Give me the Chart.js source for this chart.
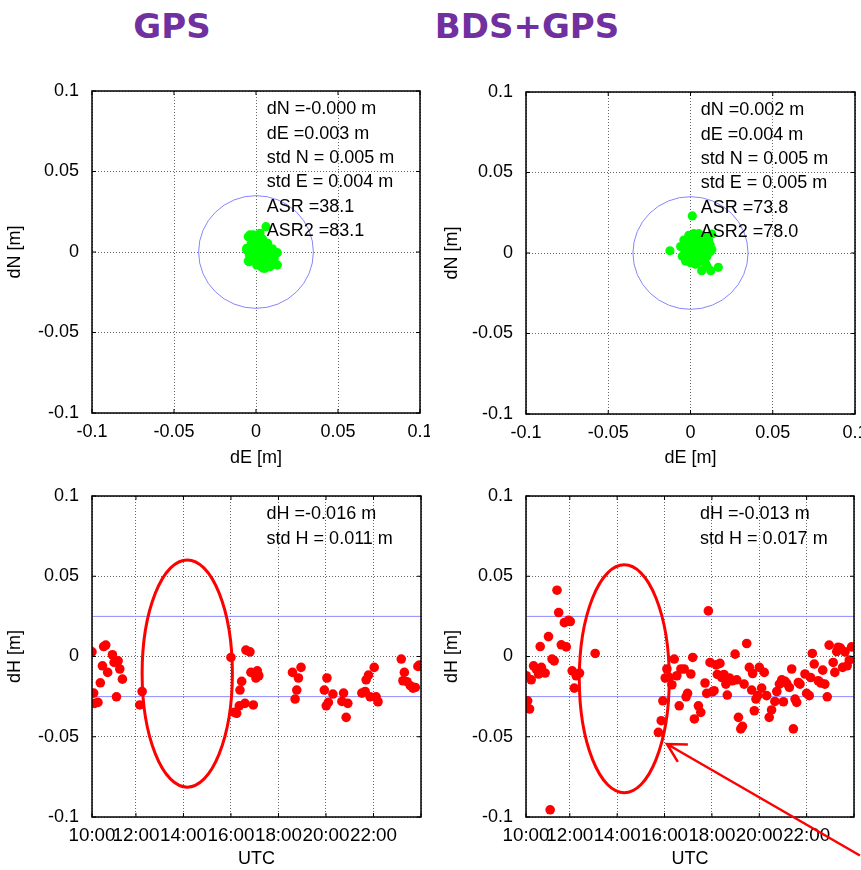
<!DOCTYPE html>
<html>
<head>
<meta charset="utf-8">
<script src="https://cdn.jsdelivr.net/npm/chart.js@4.4.1/dist/chart.umd.min.js"></script>
<style>
    body { margin: 0; background: #fff; width: 861px; height: 870px; position: relative; overflow: hidden; }
    .head { position: absolute; top: 6px; width: 240px; text-align: center; color: #7030A0;
            font: bold 34px "DejaVu Sans", sans-serif; line-height: 40px; }
    canvas { position: absolute; }
</style>
</head>
<body>
<div class="head" style="left:52px">GPS</div>
<div class="head" style="left:407px">BDS+GPS</div>
<canvas id="ne-gps" width="430" height="400" style="left:0;top:80px"></canvas>
<canvas id="ne-bds" width="431" height="400" style="left:430px;top:80px"></canvas>
<canvas id="h-gps" width="430" height="390" style="left:0;top:480px"></canvas>
<canvas id="h-bds" width="431" height="390" style="left:430px;top:480px"></canvas>
<script>
// ---- axes ----
const neTicks = [-0.1, -0.05, 0, 0.05, 0.1];
const neLabels = ['-0.1', '-0.05', '0', '0.05', '0.1'];
const timeTicks = [10.15, 12, 14, 16, 18, 20, 22, 24];
const timeLabels = ['10:00', '12:00', '14:00', '16:00', '18:00', '20:00', '22:00', ''];

// ---- horizontal scatter (dE, dN) in m ----
const gpsDE = [0.0061, 0.013, 0.013, -0.0047, -0.0057, -0.0037, 0.0024, 0.0065, 0.0055, 0.0004, 0.0085, -0.0047, -0.0057,
    -0.0041, 0.0045, 0.0085, 0.0071, -0.0016, 0.000, 0.002, 0.003, 0.001, 0.004, 0.005, -0.002, -0.003, 0.002, 0.006,
    0.007, 0.003, -0.001, 0.004, 0.008, 0.001, -0.002, 0.006, 0.002, 0.009, 0.000, 0.005, -0.004, 0.003, 0.010, 0.007,
    -0.001, 0.004, 0.011, 0.002];
const gpsDN = [0.0157, -0.0004, -0.008, -0.0056, 0.0012, 0.0106, 0.0116, 0.0054, -0.0101, -0.008, -0.0029, 0.0095, 0.0023,
    -0.006, -0.0101, -0.0091, 0.0054, 0.0106, 0.004, 0.002, -0.001, -0.003, 0.001, -0.004, 0.000, 0.005, 0.007, -0.006,
    0.002, 0.004, -0.005, -0.007, -0.002, 0.009, 0.003, 0.000, -0.006, -0.006, 0.006, 0.005, -0.002, -0.009, 0.002, -0.008,
    0.001, 0.008, -0.004, -0.002];
const bdsDE = [0.0011, -0.0125, 0.0169, 0.0123, 0.0068, 0.0129, -0.006, -0.005, -0.004, -0.003, -0.003, -0.002, -0.002,
    -0.001, -0.001, 0.000, 0.000, 0.000, 0.001, 0.001, 0.001, 0.002, 0.002, 0.002, 0.003, 0.003, 0.003, 0.003, 0.004,
    0.004, 0.004, 0.004, 0.005, 0.005, 0.005, 0.005, 0.006, 0.006, 0.006, 0.007, 0.007, 0.007, 0.007, 0.008, 0.008,
    0.008, 0.009, 0.009, 0.009, 0.010, 0.010, 0.011, 0.011, 0.012, 0.012, 0.013, -0.004, -0.001, 0.002, 0.005, 0.003,
    0.009, 0.010];
const bdsDN = [0.023, 0.0014, -0.0089, -0.011, -0.011, 0.0118, 0.004, -0.002, 0.008, 0.001, -0.005, 0.006, -0.001,
    0.003, -0.004, 0.009, 0.000, -0.006, 0.005, 0.002, -0.002, 0.007, 0.000, -0.004, 0.010, 0.004, 0.001, -0.003, 0.006,
    0.002, -0.001, -0.006, 0.008, 0.003, 0.000, -0.004, 0.005, 0.001, -0.002, 0.011, 0.004, -0.001, -0.005, 0.007, 0.002,
    -0.003, 0.009, 0.004, 0.000, 0.006, -0.002, 0.003, 0.008, 0.001, 0.005, 0.002, 0.003, 0.011, 0.012, 0.012, -0.007,
    -0.006, -0.008];

// ---- height error vs UTC hour ----
const gpsUTC = [10.15, 10.22, 10.26, 10.40, 10.50, 10.59, 10.64, 10.73, 10.81, 11.01, 11.08, 11.25, 11.32, 11.18, 11.43,
    12.26, 12.16, 16.0, 16.14, 16.24, 16.35, 16.38, 16.45, 16.59, 16.63, 16.8, 16.84, 16.94, 17.01, 17.05, 17.11, 17.17,
    18.59, 18.77, 18.70, 18.84, 18.95, 19.93, 20.04, 20.01, 20.10, 20.29, 20.67, 20.74, 20.85, 20.92, 21.51, 21.65,
    21.69, 21.79, 21.86, 22.03, 22.11, 22.19, 23.17, 23.30, 23.24, 23.41, 23.55, 23.66, 23.76, 23.87, 23.94];
const gpsDH = [0.0029, -0.0228, -0.0292, -0.0286, -0.0164, -0.0058, 0.0062, 0.0071, -0.0099, 0.0011, -0.0037, -0.0027,
    -0.0078, -0.0251, -0.0141, -0.0218, -0.0302, -0.0006, -0.0348, -0.0354, -0.0307, -0.0209, -0.0155, -0.0292, 0.004,
    0.0029, -0.0099, -0.0302, -0.0106, -0.0134, -0.0089, -0.012, -0.0099, -0.0209, -0.0265, -0.0134, -0.0068, -0.0209,
    -0.0134, -0.0307, -0.0286, -0.0234, -0.028, -0.0228, -0.0379, -0.0292, -0.0228, -0.0218, -0.0145, -0.0116, -0.0251,
    -0.0068, -0.0251, -0.0282, -0.0016, -0.0099, -0.0151, -0.0157, -0.0182, -0.0197, -0.0193, -0.0062, -0.0053];
const bdsUTC = [10.16, 10.22, 10.30, 10.37, 10.47, 10.58, 10.68, 10.75, 10.80, 10.96, 11.10, 11.17, 11.25, 11.34, 11.46,
    11.53, 11.64, 11.77, 11.85, 11.95, 12.02, 12.10, 12.19, 12.27, 12.41, 13.07, 15.74, 15.86, 15.93, 16.03, 16.10, 16.21,
    16.31, 16.41, 16.52, 16.62, 16.69, 16.83, 16.91, 16.97, 17.11, 17.19, 17.26, 17.43, 17.53, 17.71, 17.78, 17.85, 17.92,
    18.02, 18.09, 18.18, 18.23, 18.34, 18.42, 18.51, 18.59, 18.65, 18.74, 18.86, 18.98, 19.05, 19.12, 19.22, 19.29, 19.36,
    19.47, 19.58, 19.68, 19.72, 19.79, 19.86, 19.93, 20.00, 20.10, 20.21, 20.31, 20.42, 20.52, 20.66, 20.74, 20.85, 20.95,
    21.02, 21.09, 21.16, 21.27, 21.37, 21.44, 21.51, 21.58, 21.65, 21.72, 21.93, 22.00, 22.11, 22.17, 22.24, 22.32, 22.49,
    22.60, 22.68, 22.77, 22.87, 22.95, 23.12, 23.19, 23.27, 23.33, 23.43, 23.52, 23.62, 23.71, 23.80, 23.90];
const bdsDH = [-0.012, -0.0276, -0.0327, -0.0145, -0.0058, -0.0078, -0.0109, 0.0062, -0.0068, -0.0103, 0.0124, -0.0955,
    -0.0016, -0.0027, 0.0413, 0.0274, 0.0073, 0.0211, 0.006, 0.0226, 0.0218, -0.0089, -0.0197, -0.012, -0.0103, 0.0019,
    -0.0473, -0.04, -0.0276, -0.0134, -0.0078, -0.0131, -0.0176, -0.0016, -0.012, -0.0307, -0.0078, -0.0078, -0.0251,
    -0.023, -0.0109, -0.0006, -0.0389, -0.0307, -0.0348, -0.0165, -0.023, 0.0284, -0.0037, -0.022, -0.0213, -0.0052,
    -0.0112, -0.0043, -0.0131, -0.0112, -0.0172, -0.024, -0.0134, -0.0151, 0.0015, -0.0145, -0.0379, -0.0451, -0.0435,
    -0.0172, 0.0081, -0.0068, -0.0209, -0.0106, -0.0338, -0.0265, -0.0244, -0.0068, -0.0197, -0.0099, -0.0244, -0.0379,
    -0.0333, -0.028, -0.0218, -0.0172, -0.0145, -0.0282, -0.0155, -0.0168, -0.0193, -0.0078, -0.0451, -0.0265, -0.0286,
    -0.0162, -0.0172, -0.0109, -0.023, -0.0244, -0.0131, 0.0019, -0.0047, -0.0151, -0.0165, -0.0085, -0.0172, -0.0251,
    0.0071, -0.0037, -0.0099, 0.0031, 0.0058, 0.0052, -0.0068, 0.0029, -0.0058, -0.0022, 0.006];

// ---- statistics text ----
const gpsNEText = ['dN =-0.000 m', 'dE =0.003 m', 'std N = 0.005 m', 'std E = 0.004 m', 'ASR =38.1', 'ASR2 =83.1'];
const bdsNEText = ['dN =0.002 m', 'dE =0.004 m', 'std N = 0.005 m', 'std E = 0.005 m', 'ASR =73.8', 'ASR2 =78.0'];
const gpsHText = ['dH =-0.016 m', 'std H = 0.011 m'];
const bdsHText = ['dH =-0.013 m', 'std H = 0.017 m'];

// reference circle / limits
const circleRadius = 0.035;
const dhLimits = [0.025, -0.025];

// highlighted gap and arrow (data units)
const gpsGap = { x: 14.16, y: -0.0106, rx: 1.9, ry: 0.0708 };
const bdsGap = { x: 14.30, y: -0.0139, rx: 1.9, ry: 0.071 };
const arrowTip = { x: 16.1, y: -0.0545 };
const arrowTail = { x: 24.25, y: -0.124 };

const FONT = "'Liberation Sans', Arial, sans-serif";

// MATLAB-like box with inward tick marks
const boxPlugin = {
    id: 'box',
    afterDatasetsDraw(chart) {
        const { ctx, chartArea: a, scales: { x, y } } = chart;
        ctx.save();
        ctx.strokeStyle = '#000';
        ctx.lineWidth = 1;
        ctx.beginPath();
        x.ticks.forEach(t => {
            const px = x.getPixelForValue(t.value);
            ctx.moveTo(px, a.bottom); ctx.lineTo(px, a.bottom - 4);
            ctx.moveTo(px, a.top); ctx.lineTo(px, a.top + 4);
        });
        y.ticks.forEach(t => {
            const py = y.getPixelForValue(t.value);
            ctx.moveTo(a.left, py); ctx.lineTo(a.left + 4, py);
            ctx.moveTo(a.right, py); ctx.lineTo(a.right - 4, py);
        });
        ctx.stroke();
        ctx.lineWidth = 1.5;
        ctx.strokeRect(a.left, a.top, a.right - a.left, a.bottom - a.top);
        ctx.restore();
    }
};

function textPlugin(lines, xVal) {
    return {
        id: 'stats',
        afterDatasetsDraw(chart) {
            const { ctx, scales: { x, y } } = chart;
            ctx.save();
            ctx.fillStyle = '#000';
            ctx.font = '18px ' + FONT;
            ctx.textBaseline = 'middle';
            lines.forEach((s, i) => ctx.fillText(s, x.getPixelForValue(xVal), y.getPixelForValue(0.0885 - i * 0.0151)));
            ctx.restore();
        }
    };
}

const circlePlugin = {
    id: 'circle',
    beforeDatasetsDraw(chart) {
        const { ctx, scales: { x, y } } = chart;
        const cx = x.getPixelForValue(0), cy = y.getPixelForValue(0);
        ctx.save();
        ctx.strokeStyle = '#8585FF';
        ctx.lineWidth = 1;
        ctx.beginPath();
        ctx.ellipse(cx, cy, x.getPixelForValue(circleRadius) - cx, cy - y.getPixelForValue(circleRadius), 0, 0, Math.PI * 2);
        ctx.stroke();
        ctx.restore();
    }
};

function gapPlugin(gap, arrow) {
    return {
        id: 'gap',
        afterDraw(chart) {
            const { ctx, scales: { x, y } } = chart;
            const cx = x.getPixelForValue(gap.x), cy = y.getPixelForValue(gap.y);
            ctx.save();
            ctx.strokeStyle = '#FF0000';
            ctx.lineWidth = 3;
            ctx.beginPath();
            ctx.ellipse(cx, cy, x.getPixelForValue(gap.x + gap.rx) - cx, cy - y.getPixelForValue(gap.y + gap.ry), 0, 0, Math.PI * 2);
            ctx.stroke();
            if (arrow) {
                const tx = x.getPixelForValue(arrowTip.x), ty = y.getPixelForValue(arrowTip.y);
                const ex = x.getPixelForValue(arrowTail.x), ey = y.getPixelForValue(arrowTail.y);
                const ang = Math.atan2(ey - ty, ex - tx);
                ctx.lineWidth = 2.5;
                ctx.beginPath();
                ctx.moveTo(ex, ey); ctx.lineTo(tx, ty);
                ctx.moveTo(tx + 21 * Math.cos(ang - 0.5), ty + 21 * Math.sin(ang - 0.5));
                ctx.lineTo(tx, ty);
                ctx.lineTo(tx + 21 * Math.cos(ang + 0.5), ty + 21 * Math.sin(ang + 0.5));
                ctx.stroke();
            }
            ctx.restore();
        }
    };
}

function axis(opts) {
    return {
        type: 'linear',
        min: opts.ticks[0],
        max: opts.ticks[opts.ticks.length - 1],
        afterBuildTicks: s => { s.ticks = opts.ticks.map(v => ({ value: v })); },
        afterFit: s => {
            if (opts.vertical) s.width = opts.size; else s.height = opts.size;
            s.paddingLeft = s.paddingRight = s.paddingTop = s.paddingBottom = 0;
        },
        grid: { color: 'rgba(0,0,0,0.6)', lineWidth: 1, drawTicks: false },
        border: { display: false, dash: [1, 2] },
        ticks: {
            padding: opts.vertical ? 13 : 8,
            color: '#000',
            font: { family: FONT, size: opts.tickSize || 18 },
            autoSkip: false, maxRotation: 0,
            callback: (v, i) => opts.labels[i]
        },
        title: { display: true, text: opts.title, color: '#000', font: { family: FONT, size: 18 }, padding: opts.titlePad }
    };
}

function makeChart(id, datasets, scales, padding, plugins) {
    return new Chart(document.getElementById(id), {
        type: 'scatter',
        data: { datasets },
        options: {
            responsive: false, animation: false, devicePixelRatio: 1,
            layout: { padding },
            plugins: { legend: { display: false }, tooltip: { enabled: false } },
            scales
        },
        plugins
    });
}

const toXY = (xs, ys) => xs.map((v, i) => ({ x: v, y: ys[i] }));

function nePanel(id, de, dn, text, textX, yWidth, yTitlePad, padding) {
    makeChart(id,
        [{ data: toXY(de, dn), backgroundColor: '#00FF00', borderWidth: 0, pointRadius: 4.6 }],
        {
            x: axis({ ticks: neTicks, labels: neLabels, size: 400 - padding.top - 322, title: 'dE [m]', titlePad: { top: 0, bottom: 11 } }),
            y: axis({ ticks: neTicks, labels: neLabels, vertical: true, size: yWidth, title: 'dN [m]', titlePad: { top: yTitlePad, bottom: 0 } })
        },
        padding,
        [circlePlugin, boxPlugin, textPlugin(text, textX)]);
}

function hPanel(id, utc, dh, text, yWidth, yTitlePad, padding, gap, arrow) {
    const limitSets = dhLimits.map(v => ({
        type: 'line',
        data: [{ x: timeTicks[0], y: v }, { x: timeTicks[timeTicks.length - 1], y: v }],
        borderColor: '#8C8CFF', borderWidth: 1, pointRadius: 0, order: 2
    }));
    makeChart(id,
        [{ data: toXY(utc, dh), backgroundColor: '#FF0000', borderWidth: 0, pointRadius: 4.8, order: 1 }, ...limitSets],
        {
            x: axis({ ticks: timeTicks, labels: timeLabels, tickSize: 18.8, size: 390 - padding.top - 321, title: 'UTC', titlePad: { top: 0, bottom: 0 } }),
            y: axis({ ticks: neTicks, labels: neLabels, vertical: true, size: yWidth, title: 'dH [m]', titlePad: { top: yTitlePad, bottom: 0 } })
        },
        padding,
        [boxPlugin, textPlugin(text, 17.5), gapPlugin(gap, arrow)]);
}

nePanel('ne-gps', gpsDE, gpsDN, gpsNEText, 0.0065, 92, 4, { left: 0, right: 10, top: 11, bottom: 0 });
nePanel('ne-bds', bdsDE, bdsDN, bdsNEText, 0.0062, 96, 11, { left: 0, right: 6, top: 12, bottom: 0 });
hPanel('h-gps', gpsUTC, gpsDH, gpsHText, 92, 4, { left: 0, right: 9, top: 16, bottom: 0 }, gpsGap, false);
hPanel('h-bds', bdsUTC, bdsDH, bdsHText, 96, 11, { left: 0, right: 7, top: 16, bottom: 0 }, bdsGap, true);
</script>
</body>
</html>
